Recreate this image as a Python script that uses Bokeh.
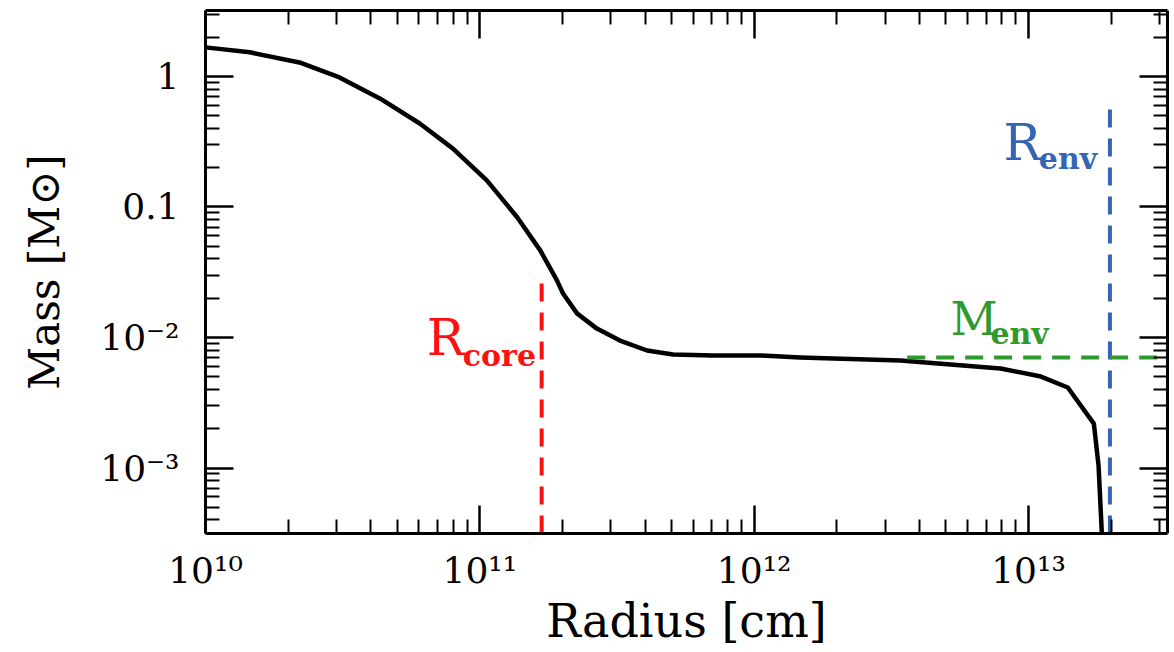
from bokeh.plotting import figure
from bokeh.models import LogAxis, FixedTicker, CustomJSTickFormatter, Label
from bokeh.embed import file_html
from bokeh.resources import INLINE

# ---- data ----
radius_cm = [1.0e10, 1.45e10, 2.20e10, 3.08e10, 4.32e10, 6.04e10, 7.96e10, 1.06e11,
             1.37e11, 1.66e11, 1.91e11, 2.01e11, 2.26e11, 2.67e11, 3.24e11, 4.07e11,
             5.06e11, 7.08e11, 1.05e12, 1.47e12, 3.41e12, 7.91e12, 1.11e13, 1.39e13,
             1.73e13, 1.80e13, 1.86e13]
mass_msun = [1.67, 1.53, 1.28, 0.982, 0.678, 0.436, 0.281, 0.160,
             0.0831, 0.0465, 0.0274, 0.0217, 0.0153, 0.0117, 0.00948, 0.00795,
             0.00741, 0.00728, 0.00728, 0.00703, 0.00667, 0.00579, 0.00502, 0.00414,
             0.00219, 0.00104, 0.00025]

r_core = 1.68e11
r_core_top = 0.031
r_env = 1.98e13
r_env_top = 0.63
m_env = 0.00703
m_env_start = 3.61e12

x_limits = [1e10, 3.21e13]
y_limits = [3.15e-4, 3.2]

x_major = [1e10, 1e11, 1e12, 1e13]
x_major_labels = ["10¹⁰", "10¹¹", "10¹²", "10¹³"]
y_major = [1e-3, 1e-2, 1e-1, 1.0]
y_major_labels = ["10⁻³", "10⁻²", "0.1", "1"]

def minors(lo_exp, hi_exp, lo, hi):
    out = []
    for e in range(lo_exp, hi_exp + 1):
        for m in range(2, 10):
            v = m * 10.0 ** e
            if lo < v < hi:
                out.append(v)
    return out

x_minor = minors(10, 13, x_limits[0], x_limits[1])
y_minor = minors(-4, 0, y_limits[0], y_limits[1])

FONT = "DejaVu Serif"

p = figure(width=1174, height=652, x_axis_type="log", y_axis_type="log",
           x_range=tuple(x_limits), y_range=tuple(y_limits),
           output_backend="svg", toolbar_location=None,
           min_border_left=205, min_border_right=7, min_border_top=10,
           min_border_bottom=119)
p.grid.visible = False
p.outline_line_color = None
p.background_fill_color = "white"
p.border_fill_color = "white"

fmt_code = """
let best = 0, bd = 1e99;
for (let i = 0; i < tvals.length; i++) {
  const d = Math.abs(Math.log10(tick) - Math.log10(tvals[i]));
  if (d < bd) { bd = d; best = i; }
}
return bd < 1e-6 ? tlabels[best] : "";
"""

def style(ax, ticks, minor, labels=None):
    ax.ticker = FixedTicker(ticks=ticks, minor_ticks=minor)
    ax.axis_line_width = 3
    ax.axis_line_color = "black"
    ax.major_tick_in = 28
    ax.major_tick_out = 0
    ax.minor_tick_in = 14
    ax.minor_tick_out = 0
    ax.major_tick_line_width = 2.5
    ax.minor_tick_line_width = 2
    ax.major_label_text_font = FONT
    ax.major_label_text_font_size = "36px"
    ax.major_label_text_color = "black"
    ax.axis_label_text_font = FONT
    ax.axis_label_text_font_style = "normal"
    ax.axis_label_text_font_size = "42px"
    ax.axis_label_text_color = "black"
    if labels is None:
        ax.formatter = CustomJSTickFormatter(code='return "";')
        ax.major_label_standoff = 0
    else:
        ax.formatter = CustomJSTickFormatter(args=dict(tvals=ticks, tlabels=labels), code=fmt_code)

xa = p.xaxis[0]
ya = p.yaxis[0]
style(xa, x_major, x_minor, x_major_labels)
style(ya, y_major, y_minor, y_major_labels)
xa.axis_label = "Radius [cm]"
xa.axis_label_text_font_size = "46px"
xa.major_label_standoff = 16
xa.axis_label_standoff = 0
ya.axis_label = "Mass [M⊙]"
ya.major_label_standoff = 26
ya.axis_label_standoff = 28

top = LogAxis()
style(top, x_major, x_minor)
p.add_layout(top, "above")
right = LogAxis()
style(right, y_major, y_minor)
p.add_layout(right, "right")

# main curve
p.line(radius_cm, mass_msun, line_color="black", line_width=4.5, line_join="round")

# markers
RED = "#ff1010"
BLUE = "#3465b4"
GREEN = "#2e9a2e"
p.line([r_core, r_core], [y_limits[0], r_core_top], line_color=RED, line_width=4, line_dash="18 11")
p.line([r_env, r_env], [y_limits[0], r_env_top], line_color=BLUE, line_width=4, line_dash="18 11")
p.line([m_env_start, x_limits[1]], [m_env, m_env], line_color=GREEN, line_width=4, line_dash="18 11")

def lab(x, y, text, color, size, bold=False):
    p.add_layout(Label(x=x, y=y, text=text, text_color=color, text_font=FONT,
                       text_font_size=size, text_font_style="bold" if bold else "normal",
                       text_align="left", text_baseline="alphabetic"))

lab(6.41e10, 9.83e-3, "R", RED, "50px")
lab(8.67e10, 7.28e-3, "core", RED, "30px", True)
lab(8.11e12, 0.307, "R", BLUE, "50px")
lab(1.09e13, 0.235, "env", BLUE, "30px", True)
lab(5.19e12, 0.01374, "M", GREEN, "46px")
lab(7.26e12, 0.01074, "env", GREEN, "30px", True)

open("out.html", "w").write(file_html(p, INLINE))
